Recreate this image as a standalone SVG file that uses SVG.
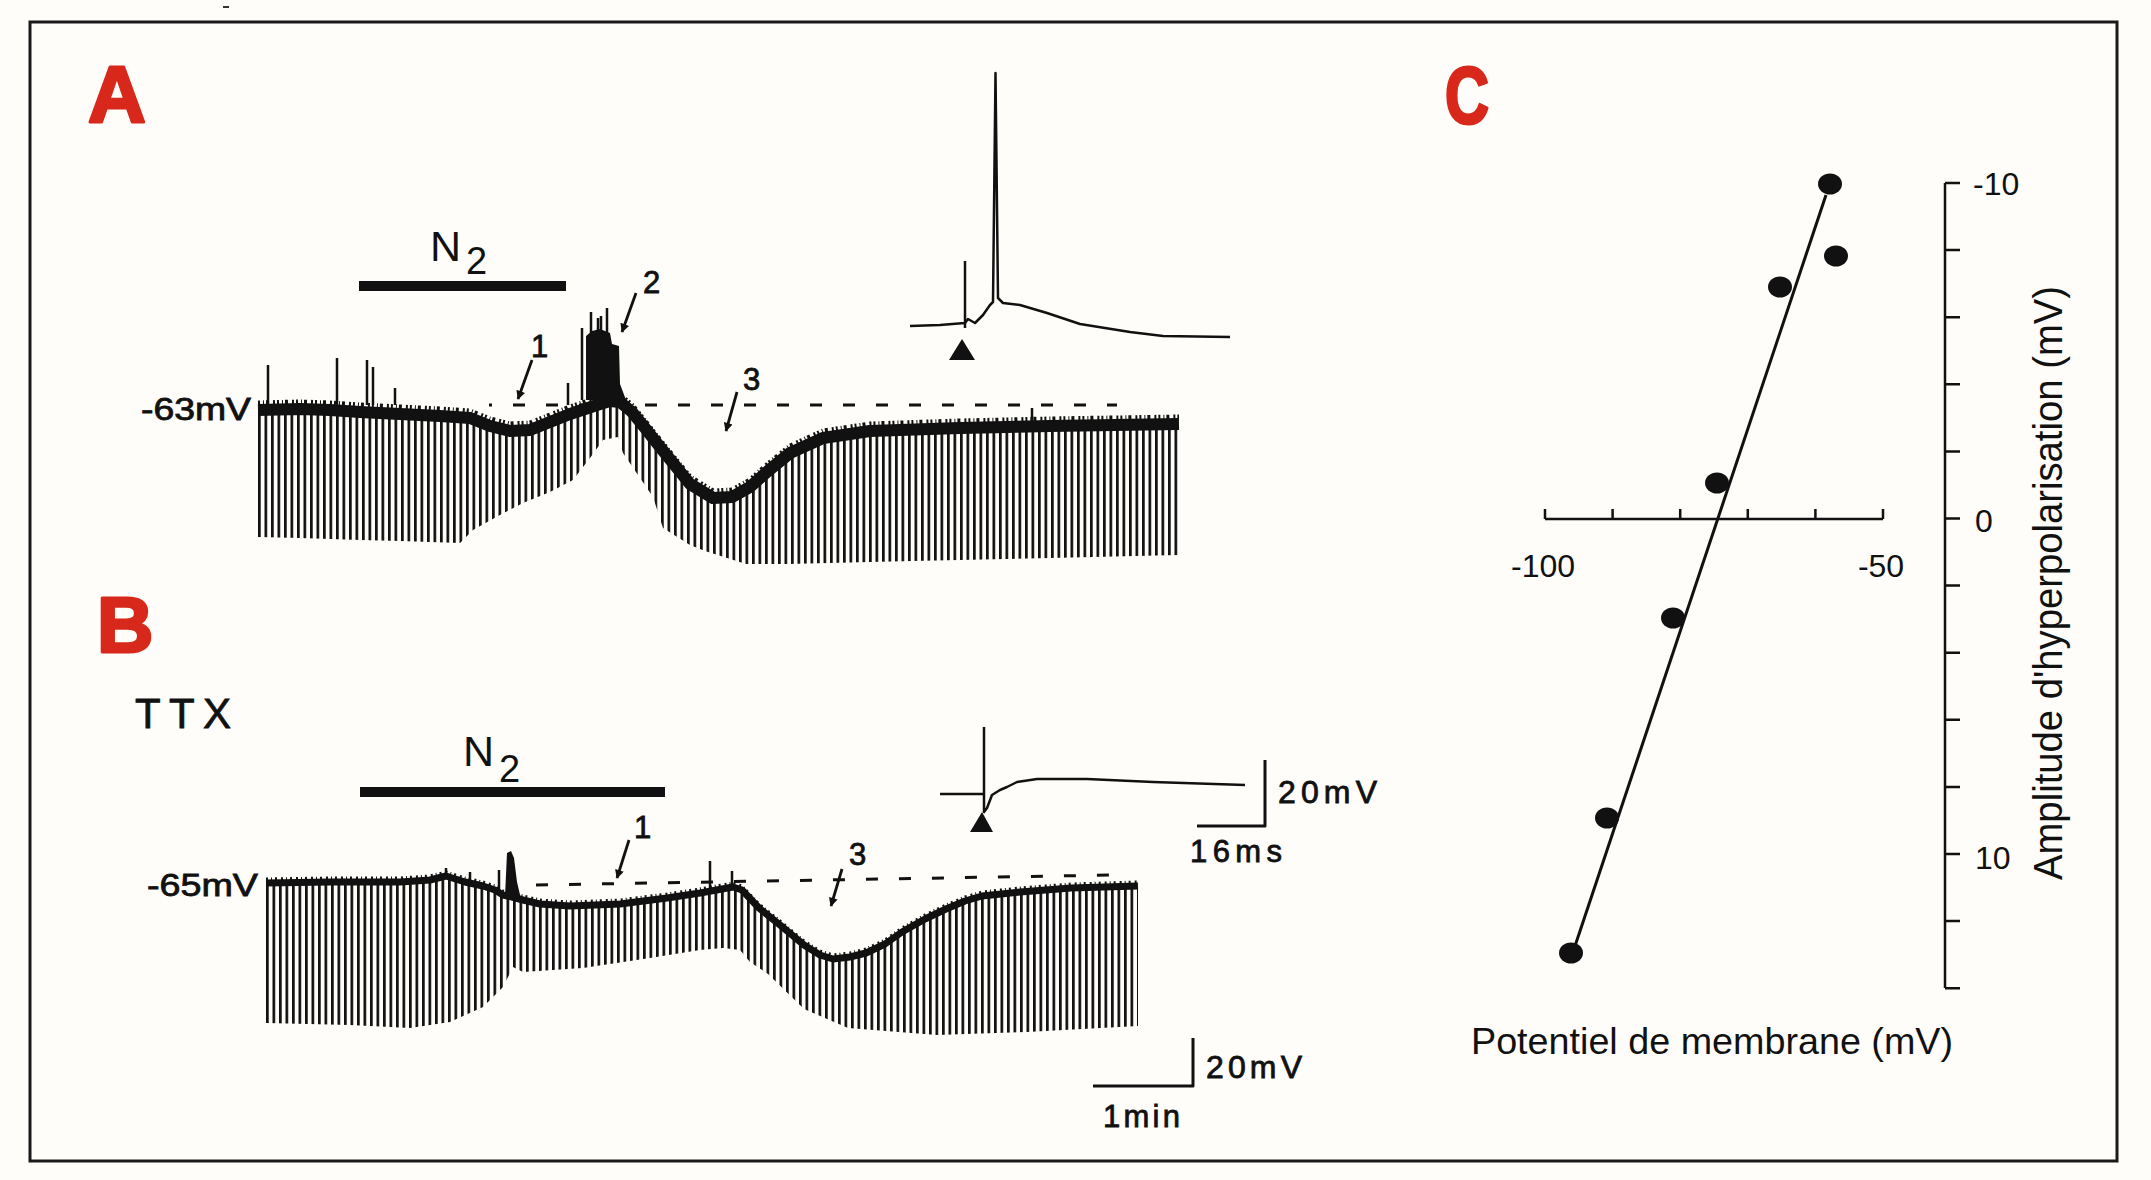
<svg xmlns="http://www.w3.org/2000/svg" xmlns:xlink="http://www.w3.org/1999/xlink" width="2151" height="1180" viewBox="0 0 2151 1180">
<defs>
<style>
.t{font-family:"Liberation Sans",Arial,Helvetica,sans-serif;fill:#111}
.b{stroke:#111;stroke-width:0.8}
.red{font-family:"Liberation Sans",Arial,sans-serif;font-weight:bold;fill:#d8281c;stroke:#d8281c;stroke-width:3;stroke-linejoin:round}
.ln{fill:none;stroke:#111;stroke-linejoin:round;stroke-linecap:butt}
.arrow{fill:none;stroke:#111;stroke-width:2.8}
.dash{fill:none;stroke:#111;stroke-width:3}
</style>
<pattern id="comb" x="258" y="0" width="6.5" height="20" patternUnits="userSpaceOnUse">
<rect x="0" y="0" width="2.7" height="20" fill="#111"/>
</pattern>
<pattern id="combB" x="266" y="0" width="6.5" height="20" patternUnits="userSpaceOnUse">
<rect x="0" y="0" width="2.7" height="20" fill="#111"/>
</pattern>
<marker id="ah" viewBox="0 0 10 10" refX="9" refY="5" markerWidth="17" markerHeight="9" markerUnits="userSpaceOnUse" orient="auto">
<path d="M0,0 L10,5 L0,10 Z" fill="#111"/>
</marker>
<path id="bandA" d="M258,410 L300,409 L330,410 L360,412 L400,414 L440,416 L470,418 L490,426 L510,431 L530,430 L550,422 L570,414 L585,409 L600,404 L610,401 L620,402 L632,412 L645,428 L660,447 L690,484 L713,498 L732,497 L750,487 L768,471 L790,453 L823,438 L870,431 L960,428 L1050,426 L1179,424"/>
<path id="bandB" d="M266,883 L330,882 L400,882 L430,880 L446,876 L465,882 L483,886 L495,890 L503,895 L512,897 L523,900 L540,904 L570,906 L620,904 L667,898 L700,893 L733,887 L742,890 L759,908 L780,925 L804,945 L820,955 L833,959 L850,957 L866,953 L885,944 L902,932 L925,919 L946,909 L965,901 L982,896 L1020,892 L1071,888 L1138,886"/>
</defs>

<rect x="0" y="0" width="2151" height="1180" fill="#fefdf9"/>
<rect x="223" y="6" width="6" height="2" fill="#333"/>
<rect id="frame" x="30" y="22" width="2087" height="1139" fill="none" stroke="#1a1a1a" stroke-width="3"/>

<g id="panel-A">
<text class="red" x="88" y="122" font-size="80">A</text>
<g id="n2-A">
<text class="t" x="430" y="261" font-size="43">N</text>
<text class="t" x="466" y="274" font-size="38">2</text>
<rect x="359" y="281" width="207" height="10" fill="#111"/>
</g>
<text class="t" x="141" y="420" font-size="31" textLength="110" lengthAdjust="spacingAndGlyphs" stroke="#111" stroke-width="0.8">-63mV</text>
<line class="dash" x1="489" y1="405" x2="1117" y2="405" stroke-dasharray="12 21" stroke-dashoffset="-24"/>
<g id="trace-A">
<path fill="url(#comb)" d="M258,410 L300,409 L330,410 L360,412 L400,414 L440,416 L470,418 L490,426 L510,431 L530,430 L550,422 L570,414 L585,409 L600,404 L610,401 L620,402 L632,412 L645,428 L660,447 L690,484 L713,498 L732,497 L750,487 L768,471 L790,453 L823,438 L870,431 L960,428 L1050,426 L1179,424 L1179,555 L1050,558 L912,561 L788,564 L746,564 L705,551 L690,545 L663,528 L653,497 L623,453 L618,437 L603,440 L590,458 L573,480 L550,492 L523,503 L500,515 L473,530 L460,543 L400,541 L360,540 L300,538 L258,537 Z"/>
<use xlink:href="#bandA" class="ln" stroke-width="12"/>
<use xlink:href="#bandA" class="ln" transform="translate(0,-7)" stroke-width="5" stroke-dasharray="2 3 1 2 3 4 2 2"/>
<path fill="#111" d="M586,400 L586,336 L592,331 L600,329 L610,333 L612,344 L619,346 L620,384 L626,400 Z"/>
<path class="ln" stroke-width="2.5" d="M591,335 V312 M598,335 V318 M601,335 V316 M607,335 V308 M268,405 V365 M337,405 V358 M367,405 V360 M373,405 V367 M395,405 V388 M582,400 V328 M568,405 V383 M1032,421 V408"/>
</g>
<g id="inset-A">
<path class="ln" stroke-width="2.5" d="M910,326 L940,325 L965,323 L968,319 L975,323 L983,315 L990,305 L993,302 L995.5,73 L998,298 L1003,303 L1020,305 L1047,313 L1080,324 L1130,332 L1163,336 L1230,337"/>
<path class="ln" stroke-width="2.5" d="M965,261 V328"/>
<path d="M949,360 L962,339 L975,360 Z" fill="#111"/>
</g>
<text class="t b" x="531" y="357" font-size="31">1</text>
<text class="t b" x="643" y="293" font-size="31">2</text>
<text class="t b" x="743" y="390" font-size="31">3</text>
</g>

<g id="panel-B">
<text class="red" x="97" y="652" font-size="78">B</text>
<text class="t b" x="135" y="728" font-size="42" textLength="96" lengthAdjust="spacing">TTX</text>
<g id="n2-B">
<text class="t" x="463" y="766" font-size="43">N</text>
<text class="t" x="499" y="782" font-size="38">2</text>
<rect x="360" y="787" width="305" height="10" fill="#111"/>
</g>
<text class="t" x="147" y="896" font-size="31" textLength="111" lengthAdjust="spacingAndGlyphs" stroke="#111" stroke-width="0.8">-65mV</text>
<line class="dash" x1="536" y1="885" x2="1112" y2="875" stroke-dasharray="12 21"/>
<g id="trace-B">
<path fill="url(#combB)" d="M266,883 L330,882 L400,882 L430,880 L446,876 L465,882 L483,886 L495,890 L503,895 L512,897 L523,900 L540,904 L570,906 L620,904 L667,898 L700,893 L733,887 L742,890 L759,908 L780,925 L804,945 L820,955 L833,959 L850,957 L866,953 L885,944 L902,932 L925,919 L946,909 L965,901 L982,896 L1020,892 L1071,888 L1138,886 L1138,1026 L1027,1032 L937,1035 L848,1028 L804,1009 L768,974 L750,962 L740,950 L723,948 L700,950 L650,958 L583,968 L523,972 L513,967 L503,987 L483,1007 L450,1022 L410,1028 L350,1025 L266,1023 Z"/>
<use xlink:href="#bandB" class="ln" stroke-width="7"/>
<use xlink:href="#bandB" class="ln" transform="translate(0,-4)" stroke-width="3" stroke-dasharray="2 3 1 3 2 4"/>
<path fill="#111" d="M505,896 L507,853 L511,851 L514,858 L517,882 L521,899 Z"/>
<path class="ln" stroke-width="2.5" d="M499,892 V870 M710,894 V861 M732,888 V871 M446,878 V868 M470,884 V872"/>
</g>
<g id="inset-B">
<path class="ln" stroke-width="2.5" d="M940,794 L984,794 M984,727 V812 L987,808 L992,795 L1000,790 L1007,787 L1017,782 L1037,779 L1087,779 L1153,782 L1245,785"/>
<path d="M970,832 L982,812 L993,832 Z" fill="#111"/>
<path class="ln" stroke-width="3" d="M1265,760 V826 H1197"/>
<text class="t b" x="1278" y="803" font-size="32" textLength="99" lengthAdjust="spacing">20mV</text>
<text class="t b" x="1190" y="862" font-size="31" textLength="92" lengthAdjust="spacing">16ms</text>
</g>
<g id="scale-B">
<path class="ln" stroke-width="3" d="M1193,1038 V1086 H1093"/>
<text class="t b" x="1206" y="1078" font-size="32" textLength="96" lengthAdjust="spacing">20mV</text>
<text class="t b" x="1103" y="1127" font-size="31" textLength="77" lengthAdjust="spacing">1min</text>
</g>
<text class="t b" x="634" y="838" font-size="31">1</text>
<text class="t b" x="849" y="865" font-size="31">3</text>
</g>

<g id="connectors">
<line class="arrow" x1="532" y1="360" x2="518" y2="399" marker-end="url(#ah)"/>
<line class="arrow" x1="636" y1="293" x2="622" y2="332" marker-end="url(#ah)"/>
<line class="arrow" x1="737" y1="392" x2="726" y2="431" marker-end="url(#ah)"/>
<line class="arrow" x1="629" y1="840" x2="617" y2="878" marker-end="url(#ah)"/>
<line class="arrow" x1="842" y1="869" x2="831" y2="906" marker-end="url(#ah)"/>
</g>

<g id="panel-C">
<text class="red" x="1445" y="123" font-size="80" textLength="44" lengthAdjust="spacingAndGlyphs">C</text>
<g id="x-axis">
<path class="ln" stroke-width="2.5" d="M1545,519 H1883 M1545,509 V519 M1612.6,509 V519 M1680.2,509 V519 M1747.8,509 V519 M1815.4,509 V519 M1883,509 V519"/>
<text class="t" x="1543" y="577" font-size="32" text-anchor="middle">-100</text>
<text class="t" x="1881" y="577" font-size="32" text-anchor="middle">-50</text>
<text class="t" x="1471" y="1054" font-size="37" textLength="482" lengthAdjust="spacingAndGlyphs">Potentiel de membrane (mV)</text>
</g>
<g id="y-axis">
<path class="ln" stroke-width="2.5" d="M1945,183 V988 M1945,183 H1960 M1945,250.1 H1960 M1945,317.2 H1960 M1945,384.3 H1960 M1945,451.4 H1960 M1945,518.5 H1960 M1945,585.6 H1960 M1945,652.7 H1960 M1945,719.8 H1960 M1945,786.9 H1960 M1945,854 H1960 M1945,921.1 H1960 M1945,988.2 H1960"/>
<text class="t" x="1973" y="195" font-size="32">-10</text>
<text class="t" x="1975" y="532" font-size="32">0</text>
<text class="t" x="1975" y="869" font-size="32">10</text>
<text class="t" transform="translate(2062,583) rotate(-90)" x="0" y="0" font-size="40" text-anchor="middle" textLength="594" lengthAdjust="spacingAndGlyphs">Amplitude d'hyperpolarisation (mV)</text>
</g>
<line id="fit" x1="1573" y1="952" x2="1826" y2="195" stroke="#111" stroke-width="3"/>
<g id="points" fill="#111">
<ellipse cx="1830" cy="184" rx="12" ry="10.5"/>
<ellipse cx="1836" cy="256" rx="12" ry="10.5"/>
<ellipse cx="1780" cy="287" rx="12" ry="10.5"/>
<ellipse cx="1717" cy="483" rx="12" ry="10.5"/>
<ellipse cx="1673" cy="618" rx="12" ry="10.5"/>
<ellipse cx="1607" cy="818" rx="12" ry="10.5"/>
<ellipse cx="1571" cy="953" rx="12" ry="10.5"/>
</g>
</g>
</svg>
